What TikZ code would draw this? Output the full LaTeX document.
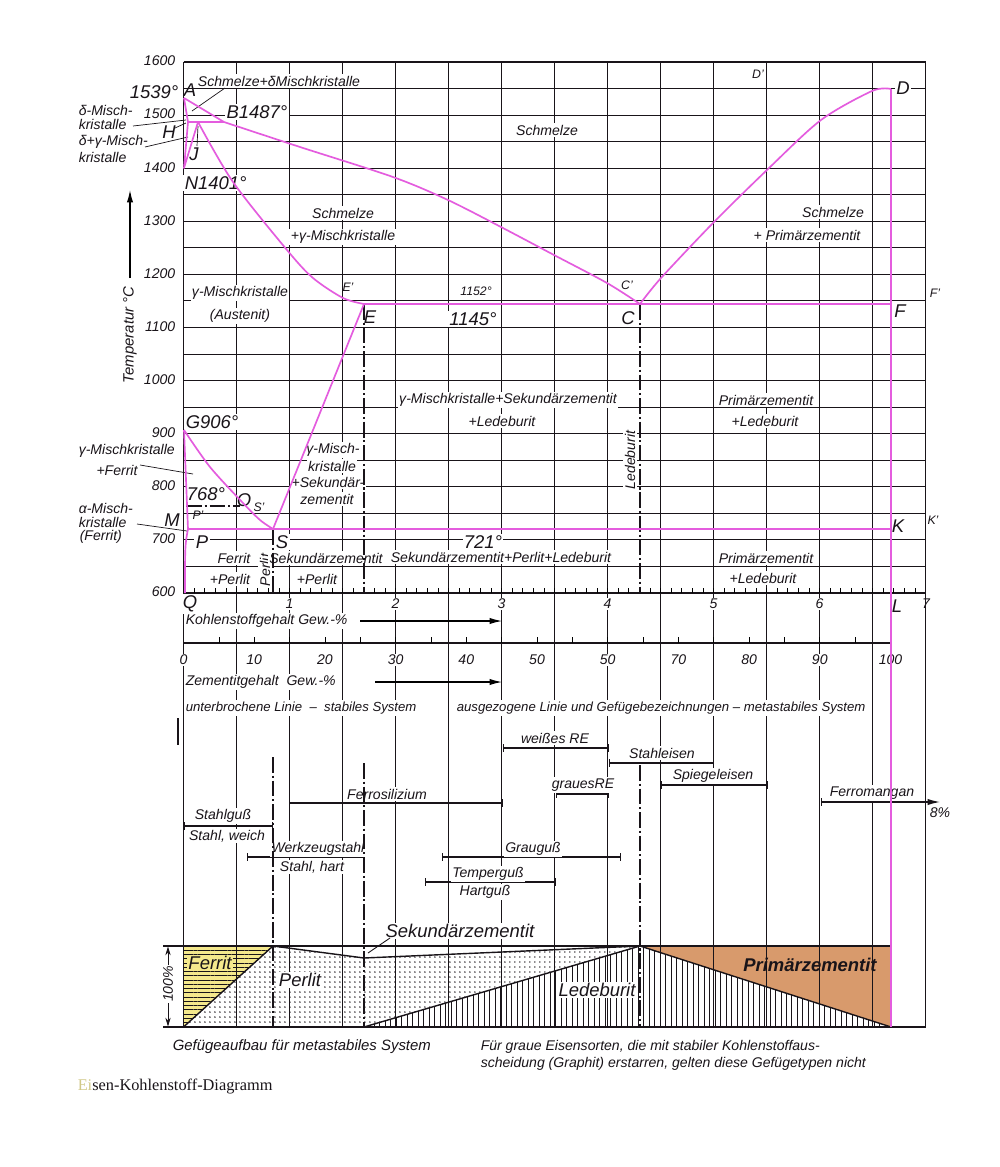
\documentclass[tikz,border=0pt]{standalone}
\usepackage{fontspec}
\setmainfont{Liberation Sans}
\newfontfamily\capfont{Liberation Serif}
\usetikzlibrary{arrows.meta,patterns.meta}
\definecolor{mag}{RGB}{228,92,222}
\definecolor{ferr}{RGB}{244,232,140}
\definecolor{prim}{RGB}{216,154,108}
\definecolor{ink}{RGB}{25,20,25}
\begin{document}
\begin{tikzpicture}[x=0.02cm,y=-0.02cm,
 declare function={px(\c)=183.5+106*\c; py(\t)=593-0.531*(\t-600);},
 every node/.style={font=\itshape\fontsize{8}{9}\selectfont, inner sep=0.8pt, text=ink},
 gridl/.style={line width=0.6pt, draw=ink},
 frame/.style={line width=0.9pt, draw=ink},
 phase/.style={line width=0.95pt, draw=mag, line join=round},
 wf/.style={fill=white},
 big/.style={font=\itshape\fontsize{10.5}{12}\selectfont},
 sm/.style={font=\itshape\fontsize{7}{8}\selectfont},
 ddl/.style={line width=1.1pt, draw=ink, dash pattern=on 9pt off 1.6pt on 1.2pt off 1.6pt},
 lead/.style={line width=0.4pt, draw=ink},
 barl/.style={line width=0.65pt, draw=ink, {Bar[width=4pt]}-{Bar[width=4pt]}},
]
\useasboundingbox (0,0) rectangle (1000,1167);
\fill[white] (0,0) rectangle (1000,1167);

% ---------- structure chart fills ----------
\fill[ferr] (183.5,946) -- (273,946) -- (183.5,1027) -- cycle;
\fill[pattern={Lines[angle=0,distance=0.085cm,line width=0.35pt]}, pattern color=ink] (183.5,946) -- (273,946) -- (183.5,1027) -- cycle;
\fill[pattern={Dots[distance=0.1cm,radius=0.45pt]}, pattern color=ink] (183.5,1027) -- (273,946) -- (364,958) -- (640,946) -- (364,1027) -- cycle;
\fill[pattern={Lines[angle=90,distance=0.11cm,line width=0.4pt]}, pattern color=ink] (364,1027) -- (640,946) -- (891,1027) -- cycle;
\fill[prim] (640,946) -- (891,946) -- (891,1027) -- cycle;

% ---------- grid ----------
\foreach \i in {0,...,14} \draw[gridl] ({px(\i/2)},62) -- ({px(\i/2)},1027);
\foreach \t in {650,700,...,1550} \draw[gridl] (183.5,{py(\t)}) -- (925.5,{py(\t)});
\draw[frame] (183.5,62) -- (925.5,62);
\draw[frame] (183.5,62) -- (183.5,1027);
\draw[frame] (183.5,593) -- (925.5,593);
\draw[frame] (183.5,643) -- (891,643);
\foreach \k in {1,...,69} \draw[line width=0.4pt] ({px(\k/10)},593) -- ({px(\k/10)},587.5);
\foreach \k in {1,...,19} \draw[line width=0.4pt] ({183.5+35.35*\k},643) -- ({183.5+35.35*\k},637);

% ---------- temperature axis ----------
\foreach \t in {600,700,...,1600} \node[anchor=east] at (177,{py(\t)-1}) {\t};
\draw[line width=0.6pt, -{Latex[length=7pt,width=3.5pt]}] (130,278) -- (130,190);
\node[rotate=90, font=\itshape\fontsize{8.5}{10}\selectfont] at (130,335) {Temperatur °C};

% ---------- phase field labels ----------
\node[big, anchor=east] at (180,92) {1539°};
\node[big] at (190,90) {A};
\node[wf] at (279,81) {Schmelze+δMischkristalle};
\draw[lead] (225,88) -- (192,111);
\node[big, wf] at (257,112) {B1487°};
\node[anchor=west] at (77,110) {δ-Misch-};
\node[anchor=west] at (77,124) {kristalle};
\draw[lead] (133,126) -- (186,120);
\node[big] at (169,132) {H};
\draw[lead] (175,128) -- (186,123);
\node[anchor=west] at (77,142) {δ+γ-Misch-};
\node[anchor=west] at (77,157) {kristalle};
\draw[lead] (145,147) -- (188,137);
\node[big] at (194,154) {J};
\draw[lead] (197,146) -- (198,126);
\node[big, wf, anchor=west] at (183,183) {N1401°};
\node[wf] at (547,130) {Schmelze};
\node[wf] at (343,213) {Schmelze};
\node[wf] at (343,237) {+γ-Mischkristalle};
\node[wf] at (833,212) {Schmelze};
\node[wf] at (807,235) {+ Primärzementit};
\node[wf] at (240,293) {γ-Mischkristalle};
\node[wf] at (240,316) {(Austenit)};
\node[sm] at (348,287) {E'};
\node[big, wf] at (370,317) {E};
\node[sm, wf] at (476,291) {1152°};
\node[big, wf] at (473,319) {1145°};
\node[sm] at (627,285) {C'};
\node[big, wf] at (628,318) {C};
\node[sm] at (935,293) {F'};
\node[big, wf] at (900,311) {F};
\node[sm, wf] at (758,74) {D'};
\node[big, wf] at (903,88) {D};
\node[wf] at (508,400) {γ-Mischkristalle+Sekundärzementit};
\node[wf] at (502,421) {+Ledeburit};
\node[wf] at (766,400) {Primärzementit};
\node[wf] at (765,421) {+Ledeburit};
\node[wf, rotate=90] at (630,460) {Ledeburit};
\node[wf] at (333,450) {γ-Misch-};
\node[wf] at (332,466) {kristalle};
\node[wf] at (328,482) {+Sekundär-};
\node[wf] at (327,499) {zementit};
\node[anchor=west] at (77,451) {γ-Mischkristalle};
\node at (117,470) {+Ferrit};
\draw[lead] (140,465) -- (193,474);
\node[big, wf, anchor=west] at (184,422) {G906°};
\node[big, wf] at (206,494) {768°};
\node[big] at (244,500) {O};
\node[sm] at (259,507) {S'};
\node[anchor=west] at (77,508) {α-Misch-};
\node[anchor=west] at (77,522) {kristalle};
\node[anchor=west] at (78,537) {(Ferrit)};
\draw[lead] (137,524) -- (187,531);
\node[big] at (172,520) {M};
\node[sm] at (198,515) {P'};
\node[big, wf] at (202,542) {P};
\node[big, wf] at (282,542) {S};
\node[wf] at (234,558) {Ferrit};
\node[wf] at (230,579) {+Perlit};
\node[wf, rotate=90] at (265,570) {Perlit};
\node[wf] at (326,558) {Sekundärzementit};
\node[wf] at (317,579) {+Perlit};
\node[big, wf] at (483,542) {721°};
\node[wf] at (501,557) {Sekundärzementit+Perlit+Ledeburit};
\node[wf] at (766,558) {Primärzementit};
\node[wf] at (763,578) {+Ledeburit};
\node[big, wf] at (898,526) {K};
\node[sm] at (933,520) {K'};

% ---------- axes below ----------
\node[big, wf] at (190,604) {Q};
\foreach \i in {1,...,6} \node[wf] at ({px(\i)},604) {\i};
\node[wf] at (926,604) {7};
\node[big, wf] at (897,606) {L};
\node[wf, anchor=west] at (184,621) {Kohlenstoffgehalt Gew.-\%};
\draw[line width=0.6pt, -{Latex[length=7pt,width=3.5pt]}] (360,621) -- (502,621);
\foreach \p/\s in {0/0,10/10,20/20,30/30,40/40,50/50,60/50,70/70,80/80,90/90,100/100}
  \node[wf] at ({183.5+7.07*\p},660) {\s};
\node[wf, anchor=west] at (184,682) {Zementitgehalt\ \ Gew.-\%};
\draw[line width=0.6pt, -{Latex[length=7pt,width=3.5pt]}] (375,682) -- (502,682);
\node[wf, anchor=west, font=\itshape\fontsize{7.5}{9}\selectfont] at (184,708) {unterbrochene Linie\ \ –\ \ stabiles System};
\node[wf, anchor=west, font=\itshape\fontsize{7.5}{9}\selectfont] at (455,708) {ausgezogene Linie und Gefügebezeichnungen – metastabiles System};
\draw[line width=1.3pt, ink] (178,718) -- (178,745);

% ---------- bars ----------
\draw[barl] (503,748) -- (609,748); \node[wf] at (555,738) {weißes RE};
\draw[barl] (609,763) -- (714,763); \node[wf] at (662,753) {Stahleisen};
\draw[barl] (661,785) -- (768,785); \node[wf] at (713,776) {Spiegeleisen};
\draw[barl] (556,794) -- (609,794); \node[wf] at (583,785) {grauesRE};
\draw[barl] (289,803) -- (503,803); \node[wf] at (387,794) {Ferrosilizium};
\draw[line width=0.65pt, draw=ink, {Bar[width=4pt]}-{Latex[length=7pt,width=3.5pt]}] (821,802) -- (940,802);
\node[wf] at (872,793) {Ferromangan};
\node[anchor=west] at (928,813) {8\%};
\draw[barl] (183.5,826) -- (273,826); \node[wf] at (223,816) {Stahlguß}; \node[wf] at (227,836) {Stahl, weich};
\draw[barl] (247,857) -- (364,857); \node[wf] at (318,849) {Werkzeugstahl}; \node[wf] at (312,867) {Stahl, hart};
\draw[barl] (442,857) -- (621,857); \node[wf] at (533,849) {Grauguß};
\draw[barl] (425,882) -- (556,882); \node[wf] at (488,874) {Temperguß}; \node[wf] at (485,892) {Hartguß};
\node[big, wf] at (460,931) {Sekundärzementit};
\draw[lead, line width=0.5pt] (368,953) -- (390,938);

% ---------- structure chart lines ----------
\draw[frame] (163,946) -- (891,946);
\draw[frame] (163,1027) -- (925.5,1027);
\draw[frame] (925.5,62) -- (925.5,1027);
\draw[line width=0.8pt, ink] (183.5,1027) -- (273,946);
\draw[line width=0.8pt, ink] (273,946) -- (364,958) -- (640,946);
\draw[line width=0.8pt, ink] (364,1027) -- (640,946) -- (891,1027);
\draw[lead, {Stealth[length=5pt,width=3pt]}-{Stealth[length=5pt,width=3pt]}] (168,946.5) -- (168,1026.5);
\node[rotate=90, wf] at (168,984) {100\%};
\node[big, fill=ferr] at (210,963) {Ferrit};
\node[big, wf] at (300,980) {Perlit};
\node[big, wf] at (597,990) {Ledeburit};
\node[font=\bfseries\itshape\fontsize{10.5}{12}\selectfont] at (810,965) {Primärzementit};

% ---------- dash-dot lines ----------
\draw[ddl] (273,529) -- (273,593);
\draw[ddl] (364,304) -- (364,593);
\draw[ddl] (640,304) -- (640,593);
\draw[ddl] (273,757) -- (273,1027);
\draw[ddl] (364,763) -- (364,1027);
\draw[ddl] (640,765) -- (640,1027);
\draw[ddl, line width=0.8pt] (186,506) -- (240,506);

% ---------- phase lines ----------
\draw[phase] (184,98) -- (188,122) -- (184,168) -- (198,122);
\draw[phase] (188,122) -- (224,122);
\draw[phase] (184,98) -- (224,122);
\draw[phase] plot[smooth, tension=0.5] coordinates {(224,122) (300,147) (393,177) (448,200) (501,227) (554,255) (607,283) (640,304)};
\draw[phase] plot[smooth, tension=0.5] coordinates {(198,122) (233,182) (287,250) (313,278) (343,298) (364,304)};
\draw[phase] (364,304) -- (891,304);
\draw[phase] plot[smooth, tension=0.5] coordinates {(891,89) (872,91) (821,120) (768,169) (714,222) (661,278) (640,304)};
\draw[phase] (891,89) -- (891,1027);
\draw[phase] plot[smooth, tension=0.5] coordinates {(184,430) (210,467) (243,503) (260,520) (273,529)};
\draw[phase] (273,529) -- (364,304);
\draw[phase] (188,529) -- (891,529);
\draw[phase] (184,430) .. controls (186,480) .. (188,529);
\draw[phase] (188,529) .. controls (185,545) .. (185,593);

% ---------- notes ----------
\node[anchor=west, font=\itshape\fontsize{8.5}{10}\selectfont] at (171,1047) {Gefügeaufbau für metastabiles System};
\node[anchor=west, font=\itshape\fontsize{8}{10}\selectfont] at (479,1047) {Für graue Eisensorten, die mit stabiler Kohlenstoffaus-};
\node[anchor=west, font=\itshape\fontsize{8}{10}\selectfont] at (479,1064) {scheidung (Graphit) erstarren, gelten diese Gefügetypen nicht};
\node[anchor=west, font=\capfont\fontsize{9.3}{11}\selectfont] at (76,1086) {{\color{ferr!70!gray}Ei}sen-Kohlenstoff-Diagramm};
\end{tikzpicture}
\end{document}
